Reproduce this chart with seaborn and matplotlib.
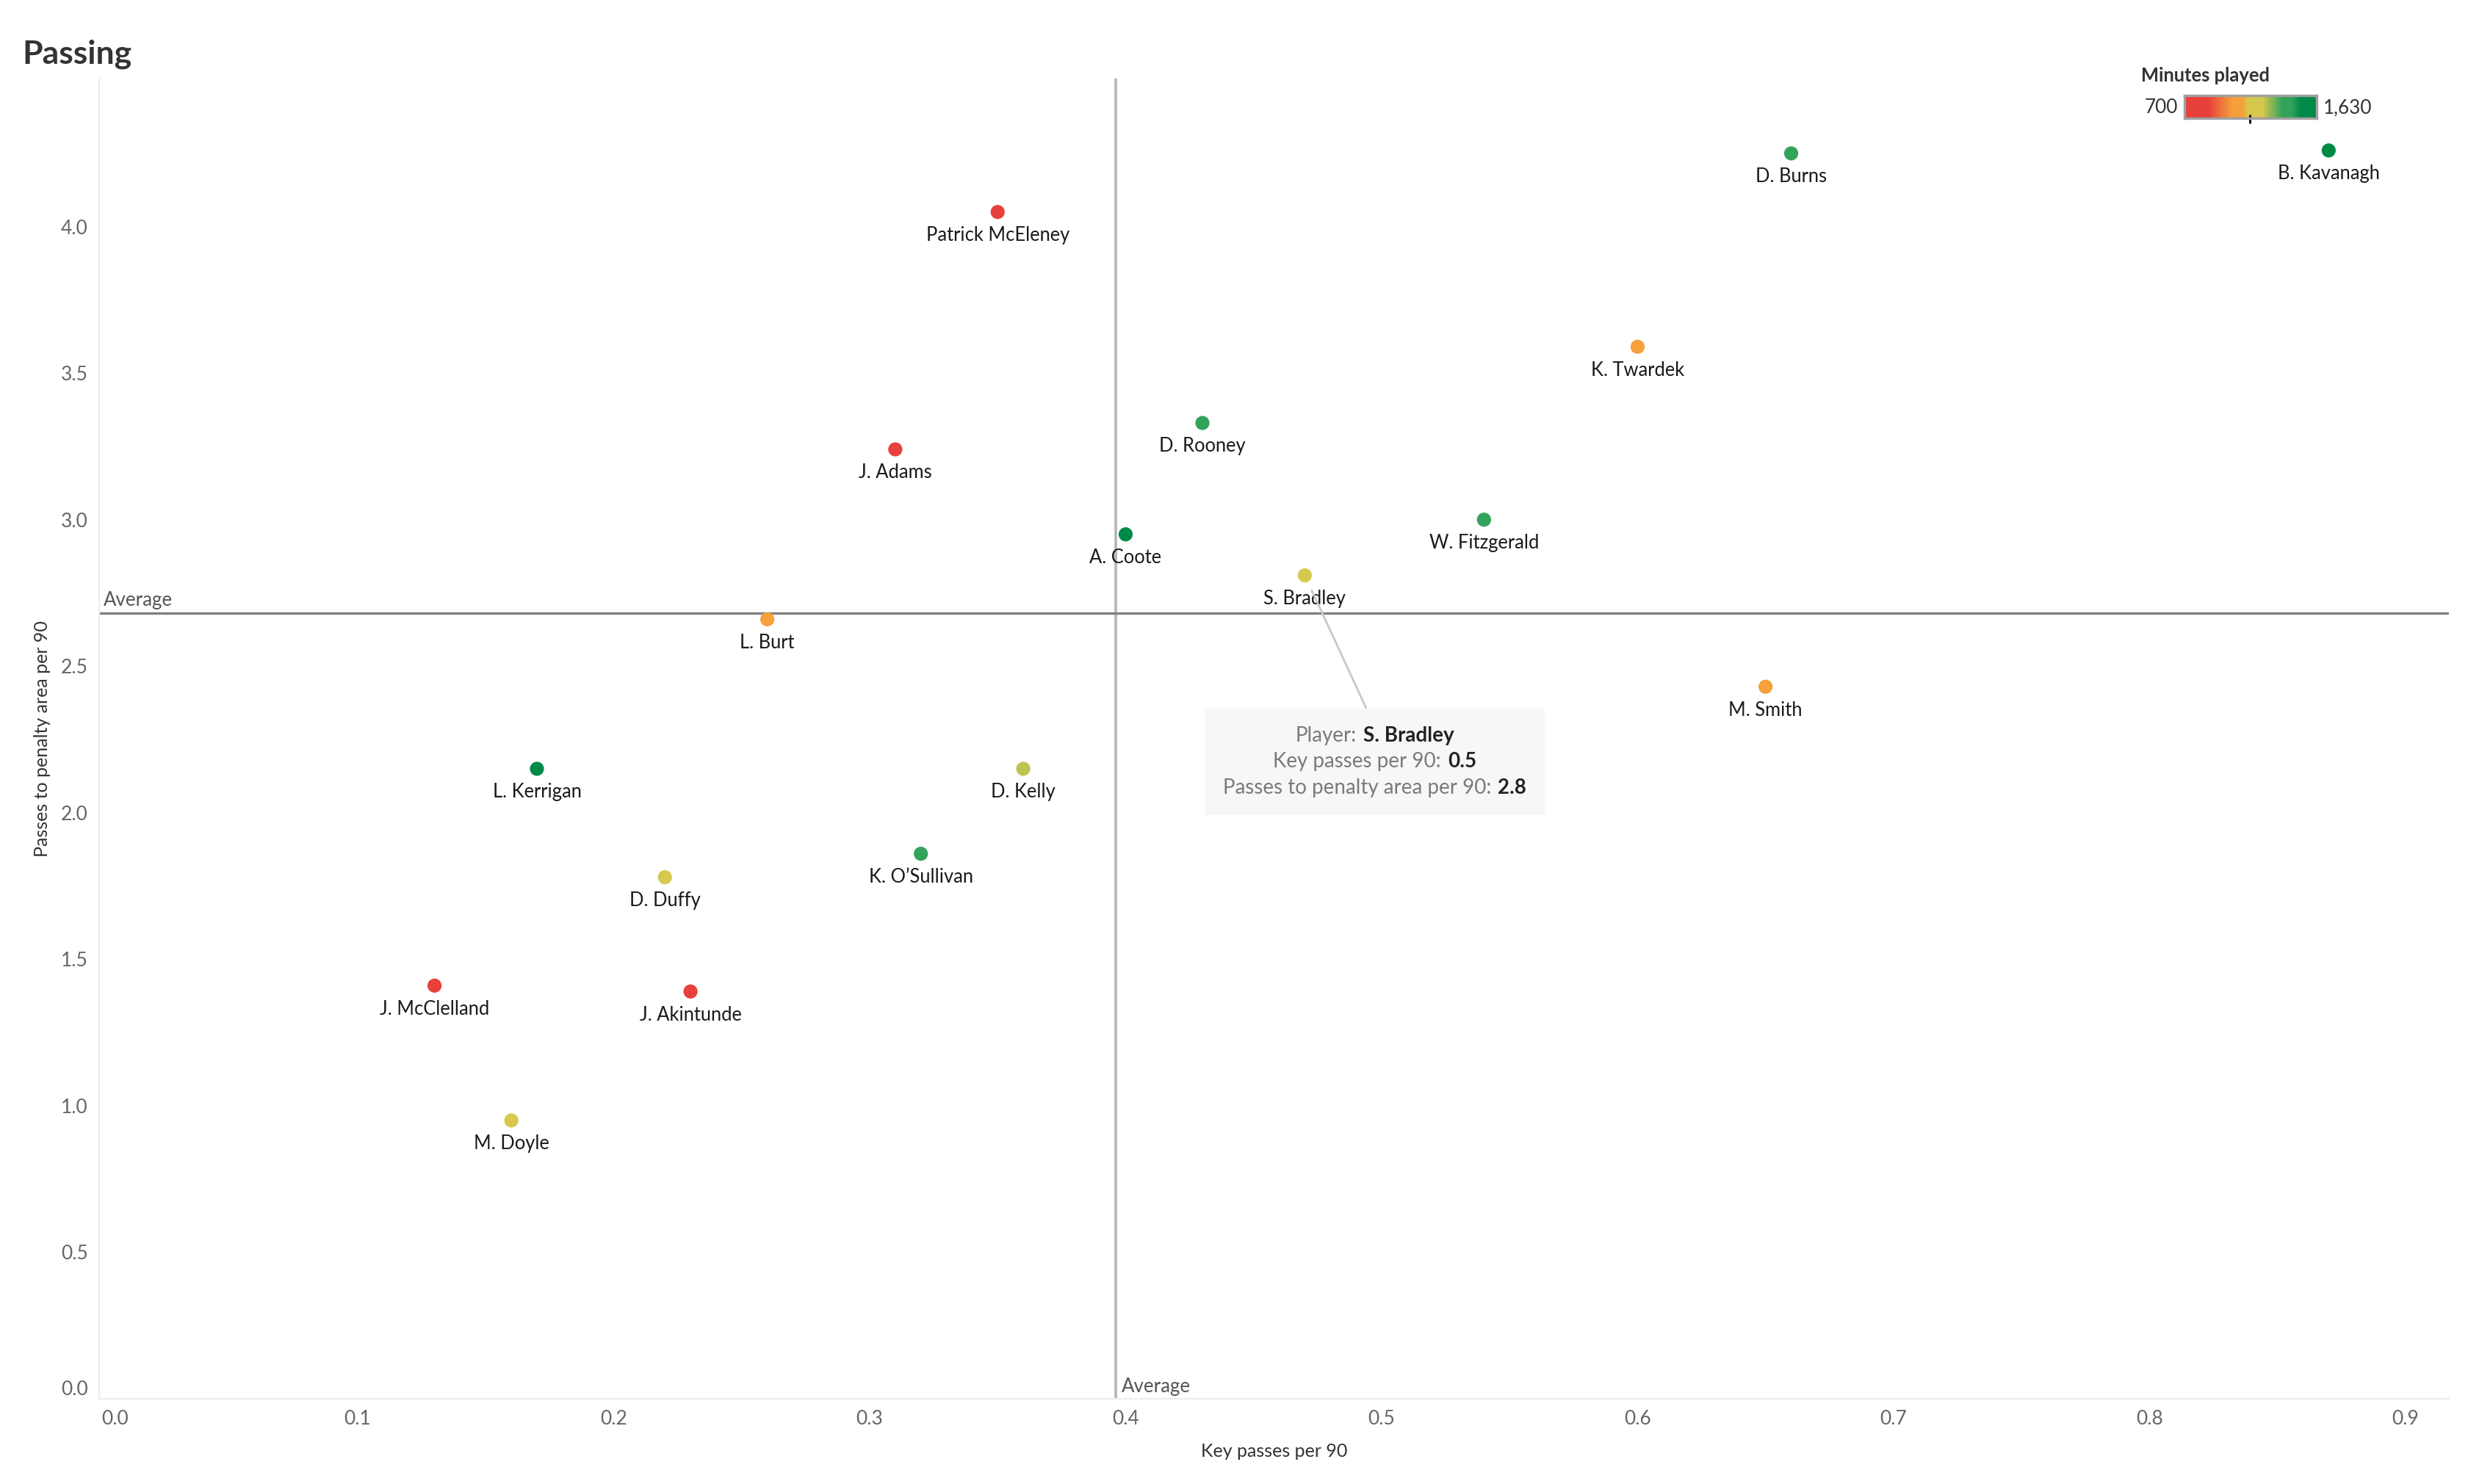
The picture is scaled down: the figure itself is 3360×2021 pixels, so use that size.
import numpy as np
import pandas as pd
import matplotlib
matplotlib.use("Agg")
import matplotlib.pyplot as plt
import seaborn as sns
from matplotlib.colors import LinearSegmentedColormap, Normalize
from matplotlib.offsetbox import TextArea, HPacker, VPacker, AnnotationBbox

# ---------------- data ----------------
players = ["Patrick McEleney", "D. Burns", "B. Kavanagh", "K. Twardek", "D. Rooney",
           "J. Adams", "A. Coote", "W. Fitzgerald", "S. Bradley", "L. Burt",
           "M. Smith", "L. Kerrigan", "D. Kelly", "K. O\u2019Sullivan", "D. Duffy",
           "J. McClelland", "J. Akintunde", "M. Doyle"]
key_passes = [0.35, 0.66, 0.87, 0.60, 0.43, 0.31, 0.40, 0.54, 0.47, 0.26,
              0.65, 0.17, 0.36, 0.32, 0.22, 0.13, 0.23, 0.16]
penalty_passes = [4.05, 4.25, 4.26, 3.59, 3.33, 3.24, 2.95, 3.00, 2.81, 2.66,
                  2.43, 2.15, 2.15, 1.86, 1.78, 1.41, 1.39, 0.95]
minutes = [780, 1420, 1630, 1060, 1410, 810, 1560, 1430, 1160, 1080,
           1070, 1590, 1270, 1400, 1190, 760, 700, 1210]
minutes_min, minutes_max = 700, 1630
x_ticks = [0.0, 0.1, 0.2, 0.3, 0.4, 0.5, 0.6, 0.7, 0.8, 0.9]
y_ticks = [0.0, 0.5, 1.0, 1.5, 2.0, 2.5, 3.0, 3.5, 4.0]
highlighted = "S. Bradley"

df = pd.DataFrame({"player": players, "kp": key_passes,
                   "pp": penalty_passes, "minutes": minutes})

# ---------------- style ----------------
sns.set_style("white")
plt.rcParams['font.family'] = ['Lato', 'DejaVu Sans']

RED, ORANGE, YELLOW, GREEN, DKGREEN = "#E8403A", "#F5A03B", "#D7C84E", "#33A35B", "#008A47"
cmap = LinearSegmentedColormap.from_list("rgg", [
    (0.00, RED), (0.18, RED), (0.36, ORANGE), (0.44, ORANGE),
    (0.48, YELLOW), (0.59, YELLOW), (0.74, GREEN), (0.81, GREEN),
    (0.88, DKGREEN), (1.00, DKGREEN)])
norm = Normalize(minutes_min, minutes_max)

fig = plt.figure(figsize=(16.8, 10.105), dpi=200)
ax = fig.add_axes([0.0402, 0.0574, 0.9521, 0.8896])

avg_x = float(np.mean(key_passes))
avg_y = float(np.mean(penalty_passes))
ax.axvline(avg_x, color="#b4b4b4", lw=1.3, zorder=1)
ax.axhline(avg_y, color="#808080", lw=1.2, zorder=1)

sns.scatterplot(data=df, x="kp", y="pp", hue="minutes", palette=cmap,
                hue_norm=(minutes_min, minutes_max), s=48, linewidth=0,
                legend=False, ax=ax, zorder=3)

for name, xv, yv in zip(players, key_passes, penalty_passes):
    ax.annotate(name, (xv, yv), xytext=(0, -14.2), textcoords="offset points",
                ha="center", va="baseline", fontsize=9.2, color="#1a1a1a", zorder=4)

ax.annotate("Average", xy=(0, avg_y), xycoords=("axes fraction", "data"),
            xytext=(2, 3.6), textcoords="offset points", ha="left", va="baseline",
            fontsize=9.3, color="#555555")
ax.annotate("Average", xy=(avg_x, 0), xycoords=("data", "axes fraction"),
            xytext=(3, 3.2), textcoords="offset points", ha="left", va="baseline",
            fontsize=9.3, color="#555555")

ax.set_xlim(-0.001, 0.917)
ax.set_ylim(0, 4.505)
ax.set_xticks(x_ticks)
ax.set_yticks(y_ticks)
ax.set_xticklabels([f"{v:.1f}" for v in x_ticks])
ax.set_yticklabels([f"{v:.1f}" for v in y_ticks])
ax.get_xticklabels()[0].set_ha("left")
ax.get_yticklabels()[0].set_va("bottom")
ax.tick_params(axis="both", length=3.5, width=0.8, color="#e6e6e6",
               labelcolor="#666666", labelsize=9.5, pad=2)
for s in ["top", "right"]:
    ax.spines[s].set_visible(False)
for s in ["left", "bottom"]:
    ax.spines[s].set_color("#ededed")
    ax.spines[s].set_linewidth(0.8)
ax.set_xlabel("Key passes per 90", fontsize=9, color="#333333", labelpad=7)
ax.set_ylabel("Passes to penalty area per 90", fontsize=9, color="#333333", labelpad=5)

# ---------------- tooltip ----------------
i = players.index(highlighted)
lab = dict(color="#7a7a7a", fontsize=10)
val = dict(color="#222222", fontsize=10, fontweight="bold")
lines = [
    HPacker(children=[TextArea("Player:", textprops=lab), TextArea(players[i], textprops=val)], sep=3.3, pad=0),
    HPacker(children=[TextArea("Key passes per 90:", textprops=lab), TextArea(f"{key_passes[i]:.1f}", textprops=val)], sep=3.3, pad=0),
    HPacker(children=[TextArea("Passes to penalty area per 90:", textprops=lab), TextArea(f"{penalty_passes[i]:.1f}", textprops=val)], sep=3.3, pad=0),
]
vp = VPacker(children=lines, align="center", sep=3.3, pad=0)
ab = AnnotationBbox(vp, (key_passes[i], penalty_passes[i]), xybox=(34.2, -91.4),
                    xycoords="data", boxcoords="offset points", box_alignment=(0.5, 0.5),
                    frameon=True, fontsize=10,
                    bboxprops=dict(facecolor="#f7f7f7", edgecolor="none",
                                   boxstyle="square,pad=0.88"),
                    arrowprops=dict(arrowstyle="-", color="#c8c8c8", lw=1.0,
                                    shrinkA=0, shrinkB=8, relpos=(0.5, 1.0)),
                    zorder=5)
ax.add_artist(ab)

# ---------------- title ----------------
fig.text(30 / 3360, 1 - 86 / 2021, "Passing", fontsize=16, fontweight="bold",
         color="#333333", ha="left", va="baseline")

# ---------------- colour legend ----------------
cax = fig.add_axes([2974 / 3360, 1 - 161 / 2021, 180 / 3360, 31 / 2021])
grad = np.linspace(minutes_min, minutes_max, 512)[None, :]
cax.imshow(grad, cmap=cmap, norm=norm, aspect="auto",
           extent=(minutes_min, minutes_max, 0, 1))
cax.set_xlim(minutes_min, minutes_max)
cax.set_ylim(0, 1)
cax.set_xticks([])
cax.set_yticks([])
for s in cax.spines.values():
    s.set_color("#a0a0a0")
    s.set_linewidth(1.2)
cax.plot([minutes[i], minutes[i]], [0.12, -0.2], color="black", lw=1.0, clip_on=False)
fig.text(2965 / 3360, 1 - 147 / 2021, f"{minutes_min:,}", ha="right", va="center",
         fontsize=9.4, color="#333333")
fig.text(3163 / 3360, 1 - 147 / 2021, f"{minutes_max:,}", ha="left", va="center",
         fontsize=9.4, color="#333333")
fig.text(2915 / 3360, 1 - 103 / 2021, "Minutes played", ha="left", va="center",
         fontsize=9.2, fontweight="bold", color="#333333")

fig.savefig("out.png", dpi=200)
